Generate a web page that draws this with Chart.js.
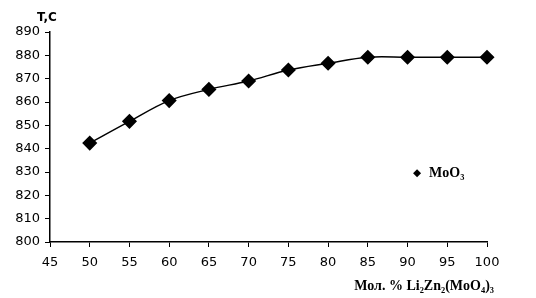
<!DOCTYPE html>
<html><head><meta charset="utf-8">
<script src="https://cdn.jsdelivr.net/npm/chart.js@4/dist/chart.umd.min.js"></script>
<style>html,body{margin:0;padding:0;background:#fff}#wrap{width:536px;height:298px}</style>
</head><body><div id="wrap"><canvas id="c" width="536" height="298"></canvas></div>
<script>
const xValues = [50, 55, 60, 65, 70, 75, 80, 85, 90, 95, 100];
const tValues = [842.4, 851.7, 860.6, 865.4, 869.0, 873.7, 876.6, 879.2, 879.2, 879.2, 879.2];
const seriesName = "MoO\u2083";
const yTitle = "T,C";
const xTitle = "\u041C\u043E\u043B. % Li\u2082Zn\u2082(MoO\u2084)\u2083";

const textPlugin = {
  id: 'texts',
  afterDraw(chart) {
    const ctx = chart.ctx;
    const xs = chart.scales.x, ys = chart.scales.y;
    ctx.save();
    ctx.fillStyle = '#000';
    ctx.font = 'bold 12px "DejaVu Sans"';
    ctx.textAlign = 'center';
    ctx.textBaseline = 'middle';
    ctx.fillText(yTitle, xs.left - 3, ys.top - 14);
    // legend
    const lx = xs.getPixelForValue(91.2), ly = ys.getPixelForValue(829.5);
    ctx.beginPath();
    ctx.moveTo(lx, ly - 4); ctx.lineTo(lx + 4, ly); ctx.lineTo(lx, ly + 4); ctx.lineTo(lx - 4, ly); ctx.closePath();
    ctx.fill();
    ctx.font = 'bold 14px "Liberation Serif"';
    ctx.textAlign = 'left';
    ctx.fillText(seriesName, lx + 12, ly);
    // x title
    ctx.textAlign = 'right';
    ctx.fillText(xTitle, xs.right + 7, xs.top + 44);
    ctx.restore();
  }
};

new Chart(document.getElementById('c'), {
  type: 'line',
  data: {
    datasets: [{
      label: seriesName,
      data: xValues.map((x, i) => ({x: x, y: tValues[i]})),
      borderColor: '#000',
      backgroundColor: '#000',
      borderWidth: 1.5,
      pointStyle: 'rectRot',
      pointRadius: 6.5,
      pointHoverRadius: 6.5,
      tension: 0.35,
      clip: false,
      fill: false
    }]
  },
  options: {
    responsive: false,
    animation: false,
    events: [],
    layout: { padding: { top: 32, right: 49, bottom: 0, left: 0 } },
    plugins: { legend: { display: false }, tooltip: { enabled: false }, title: { display: false } },
    scales: {
      x: {
        type: 'linear', min: 45, max: 100,
        afterFit(s) { s.height = 56; },
        border: { display: true, color: '#000', width: 1.5 },
        grid: { drawOnChartArea: false, drawTicks: true, tickLength: 5, color: '#000', lineWidth: 1 },
        ticks: { stepSize: 5, color: '#000', padding: 8, font: { family: 'DejaVu Sans', size: 13 } }
      },
      y: {
        min: 800, max: 890,
        afterFit(s) { s.width = 50; },
        border: { display: true, color: '#000', width: 1.5 },
        grid: { drawOnChartArea: false, drawTicks: true, tickLength: 5, color: '#000', lineWidth: 1 },
        ticks: { stepSize: 10, color: '#000', padding: 5, font: { family: 'DejaVu Sans', size: 13 } }
      }
    }
  },
  plugins: [textPlugin]
});
</script></body></html>
